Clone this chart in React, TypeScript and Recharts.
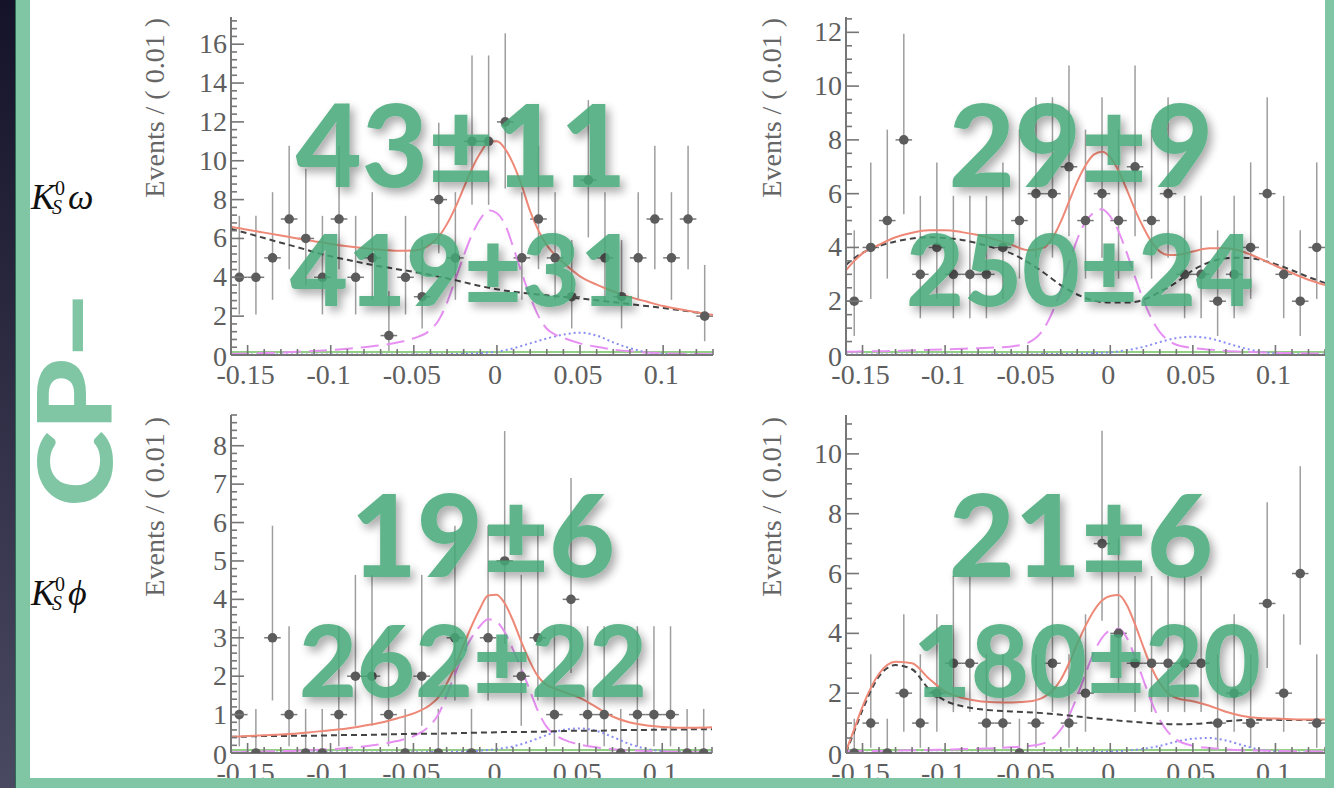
import React from 'react';
import { ComposedChart, Scatter, Line, XAxis, YAxis, ErrorBar } from 'recharts';

// centres of the 0.01-wide bins
const binCenters = [
  -0.155, -0.145, -0.135, -0.125, -0.115, -0.105, -0.095, -0.085, -0.075, -0.065,
  -0.055, -0.045, -0.035, -0.025, -0.015, -0.005, 0.005, 0.015, 0.025, 0.035,
  0.045, 0.055, 0.065, 0.075, 0.085, 0.095, 0.105, 0.115, 0.125,
];

// events per bin
const countsOmegaL = [4, 4, 5, 7, 6, 4, 7, 4, 5, 1, 4, 3, 8, 5, 11, 11, 12, 5, 7, 5, 3, 9, 5, 3, 5, 7, 5, 7, 2];
const countsOmegaR = [2, 4, 5, 8, 3, 4, 3, 3, 3, 4, 5, 6, 6, 7, 5, 6, 5, 7, 5, 6, 3, 3, 2, 3, 4, 6, 3, 2, 4];
const countsPhiL = [1, 0, 3, 1, 0, 0, 1, 2, 2, 1, 0, 2, 0, 3, 0, 3, 5, 2, 3, 1, 4, 1, 1, 0, 1, 1, 1, 0, 0];
const countsPhiR = [0, 1, 0, 2, 1, 2, 3, 3, 1, 1, 0, 1, 3, 1, 2, 7, 4, 3, 3, 3, 3, 3, 1, 2, 1, 5, 2, 6, 1];

// 68% Poisson interval for n = 0..12
const poissonLow = [0, 0.173, 0.708, 1.367, 2.086, 2.840, 3.620, 4.419, 5.232, 6.056, 6.889, 7.730, 8.576];
const poissonHigh = [1.148, 3.300, 4.638, 5.918, 7.163, 8.382, 9.584, 10.77, 11.95, 13.12, 14.27, 15.42, 16.56];

// sample points of the fitted curves
const fineX = [
  -0.16, -0.155, -0.15, -0.14, -0.13, -0.12, -0.11, -0.10, -0.09, -0.08, -0.07, -0.06, -0.05,
  -0.04, -0.035, -0.03, -0.025, -0.02, -0.015, -0.01, -0.005, 0, 0.005, 0.01, 0.015, 0.02,
  0.025, 0.03, 0.035, 0.04, 0.05, 0.06, 0.07, 0.08, 0.09, 0.10, 0.11, 0.12, 0.13,
];
const coarseX = [
  -0.16, -0.155, -0.15, -0.14, -0.13, -0.12, -0.11, -0.10, -0.09, -0.08, -0.07, -0.06, -0.05,
  -0.04, -0.03, -0.02, -0.01, 0, 0.01, 0.02, 0.03, 0.04, 0.05, 0.06, 0.07, 0.08, 0.09, 0.10,
  0.11, 0.12, 0.13,
];
const peakingX = [-0.16, -0.1, -0.05, -0.02, -0.01, 0, 0.01, 0.02, 0.03, 0.04, 0.05, 0.06, 0.07, 0.08, 0.09, 0.10, 0.11, 0.13];
const edgeX = [-0.16, 0.13];

// total fit (fineX)
const totalOmegaL = [6.6, 6.52, 6.45, 6.3, 6.15, 6.0, 5.86, 5.72, 5.6, 5.5, 5.42, 5.37, 5.38, 5.7, 6.1, 6.75, 7.6, 8.6, 9.6, 10.4, 10.95, 11.0, 10.6, 9.8, 8.7, 7.4, 6.4, 5.65, 5.15, 4.75, 4.05, 3.62, 3.27, 2.98, 2.75, 2.52, 2.35, 2.2, 2.06];
const totalOmegaR = [3.15, 3.5, 3.78, 4.1, 4.38, 4.55, 4.64, 4.64, 4.57, 4.46, 4.3, 4.1, 3.9, 4.0, 4.35, 4.95, 5.7, 6.45, 7.05, 7.45, 7.56, 7.35, 6.85, 6.15, 5.4, 4.75, 4.2, 3.85, 3.72, 3.72, 3.85, 3.97, 3.97, 3.85, 3.6, 3.32, 3.05, 2.8, 2.6];
const totalPhiL = [0.42, 0.43, 0.44, 0.46, 0.48, 0.51, 0.55, 0.59, 0.64, 0.71, 0.79, 0.9, 1.03, 1.25, 1.45, 1.8, 2.25, 2.78, 3.3, 3.75, 4.1, 4.12, 3.9, 3.45, 2.9, 2.4, 2.0, 1.78, 1.68, 1.6, 1.44, 1.2, 0.95, 0.8, 0.72, 0.68, 0.66, 0.66, 0.67];
const totalPhiR = [0.06, 0.8, 1.55, 2.65, 3.05, 3.0, 2.5, 2.05, 1.85, 1.74, 1.7, 1.69, 1.72, 1.88, 2.08, 2.45, 3.0, 3.65, 4.25, 4.75, 5.1, 5.25, 5.28, 4.95, 4.3, 3.55, 2.85, 2.33, 2.0, 1.84, 1.73, 1.58, 1.38, 1.24, 1.17, 1.15, 1.13, 1.12, 1.12];

// signal component (fineX)
const signalOmegaL = [0.05, 0.06, 0.07, 0.1, 0.13, 0.17, 0.21, 0.26, 0.32, 0.4, 0.5, 0.64, 0.86, 1.3, 1.8, 2.7, 3.9, 5.1, 6.2, 7.0, 7.45, 7.3, 6.7, 5.5, 4.2, 3.0, 2.0, 1.35, 1.05, 0.88, 0.6, 0.42, 0.28, 0.19, 0.13, 0.09, 0.06, 0.05, 0.04];
const signalOmegaR = [0.12, 0.12, 0.13, 0.14, 0.15, 0.17, 0.19, 0.21, 0.23, 0.25, 0.28, 0.32, 0.45, 1.0, 1.6, 2.4, 3.4, 4.3, 4.95, 5.3, 5.42, 5.15, 4.6, 3.8, 2.9, 2.05, 1.35, 0.85, 0.55, 0.38, 0.26, 0.2, 0.15, 0.12, 0.1, 0.08, 0.07, 0.06, 0.06];
const signalPhiL = [0.02, 0.02, 0.03, 0.04, 0.05, 0.06, 0.08, 0.1, 0.13, 0.17, 0.23, 0.31, 0.44, 0.72, 1.0, 1.5, 2.05, 2.6, 3.0, 3.3, 3.48, 3.42, 3.15, 2.7, 2.2, 1.65, 1.1, 0.7, 0.48, 0.36, 0.22, 0.15, 0.1, 0.07, 0.05, 0.04, 0.03, 0.02, 0.02];
const signalPhiR = [0.06, 0.06, 0.07, 0.07, 0.08, 0.09, 0.1, 0.11, 0.13, 0.14, 0.16, 0.19, 0.23, 0.33, 0.48, 0.78, 1.25, 1.9, 2.65, 3.35, 3.85, 4.1, 4.15, 3.85, 3.2, 2.45, 1.7, 1.1, 0.7, 0.45, 0.24, 0.17, 0.12, 0.09, 0.08, 0.07, 0.06, 0.06, 0.05];

// continuum background (coarseX)
const bkgOmegaL = [6.5, 6.38, 6.26, 6.02, 5.78, 5.55, 5.3, 5.08, 4.9, 4.72, 4.56, 4.42, 4.28, 4.12, 3.95, 3.75, 3.55, 3.38, 3.26, 3.16, 3.07, 2.99, 2.91, 2.82, 2.72, 2.62, 2.52, 2.42, 2.31, 2.19, 2.07];
const bkgOmegaR = [3.35, 3.6, 3.8, 4.05, 4.22, 4.33, 4.38, 4.35, 4.28, 4.15, 3.98, 3.78, 3.45, 3.05, 2.6, 2.25, 2.02, 1.95, 1.95, 2.05, 2.35, 2.7, 3.15, 3.45, 3.6, 3.62, 3.55, 3.38, 3.15, 2.9, 2.68];
const bkgPhiL = [0.42, 0.42, 0.43, 0.44, 0.44, 0.45, 0.45, 0.46, 0.47, 0.47, 0.48, 0.49, 0.5, 0.5, 0.51, 0.52, 0.53, 0.54, 0.55, 0.55, 0.56, 0.57, 0.58, 0.58, 0.59, 0.6, 0.6, 0.61, 0.61, 0.62, 0.62];
const bkgPhiR = [0.02, 0.72, 1.44, 2.56, 2.94, 2.8, 2.15, 1.75, 1.57, 1.47, 1.42, 1.39, 1.36, 1.33, 1.28, 1.22, 1.16, 1.11, 1.06, 1.02, 0.98, 0.96, 0.97, 1.01, 1.06, 1.1, 1.11, 1.11, 1.1, 1.1, 1.1];

// peaking background (peakingX)
const peakOmegaL = [0.02, 0.02, 0.03, 0.06, 0.1, 0.17, 0.35, 0.6, 0.85, 1.05, 1.15, 1.0, 0.65, 0.35, 0.15, 0.06, 0.03, 0.02];
const peakOmegaR = [0.02, 0.02, 0.03, 0.05, 0.07, 0.1, 0.18, 0.3, 0.48, 0.63, 0.68, 0.62, 0.45, 0.27, 0.13, 0.06, 0.03, 0.02];
const peakPhiL = [0.01, 0.01, 0.02, 0.04, 0.06, 0.1, 0.17, 0.3, 0.46, 0.6, 0.64, 0.58, 0.42, 0.24, 0.11, 0.05, 0.02, 0.01];
const peakPhiR = [0.01, 0.01, 0.01, 0.02, 0.03, 0.05, 0.08, 0.14, 0.24, 0.38, 0.48, 0.5, 0.42, 0.26, 0.12, 0.05, 0.02, 0.01];

// small flat component along the floor
const floorOmegaL = [0.15, 0.15];
const floorOmegaR = [0.11, 0.11];
const floorPhiL = [0.08, 0.08];
const floorPhiR = [0.1, 0.1];

// fitted yields: signal / total
const yieldSignal = ['43±11', '29±9', '19±6', '21±6'];
const yieldTotal = ['419±31', '250±24', '262±22', '180±20'];

// axis ticks
const xMajorTicks = [-0.15, -0.1, -0.05, 0, 0.05, 0.1];
const yMajorOmegaL = [0, 2, 4, 6, 8, 10, 12, 14, 16];
const yMajorOmegaR = [0, 2, 4, 6, 8, 10, 12];
const yMajorPhiL = [0, 1, 2, 3, 4, 5, 6, 7, 8];
const yMajorPhiR = [0, 2, 4, 6, 8, 10];

const steps = (from: number, to: number, step: number) => {
  const out: number[] = [];
  for (let i = 0; from + i * step <= to + 1e-9; i++) out.push(+(from + i * step).toFixed(4));
  return out;
};
const xAllTicks = steps(-0.16, 0.13, 0.01);

const zip = (xs: number[], ys: number[]) => xs.map((x, i) => ({ x, y: ys[i] }));

const AXIS = '#767676';
const LABEL = '#5e5e5e';
const SERIF = '"Liberation Serif", "Times New Roman", serif';
const GREEN = '#80c6a5';

type Side = 'bottom' | 'top' | 'left' | 'right';

const tickRenderer =
  (side: Side, majors: number[], majorLen: number, minorLen: number, labelled: boolean) =>
  (props: any) => {
    const { x, y, payload } = props;
    const v = payload.value as number;
    const major = majors.some((m) => Math.abs(m - v) < 1e-6);
    const len = major ? majorLen : minorLen;
    let l = { x1: x, y1: y, x2: x, y2: y - len };
    if (side === 'top') l = { x1: x, y1: y, x2: x, y2: y + len };
    if (side === 'left') l = { x1: x, y1: y, x2: x + len, y2: y };
    if (side === 'right') l = { x1: x, y1: y, x2: x - len, y2: y };
    let label = null;
    if (labelled && major) {
      label =
        side === 'bottom' ? (
          <text x={x - 2} y={y + 29} textAnchor="middle" fontSize={28} fontFamily={SERIF} fill={LABEL}>
            {String(v)}
          </text>
        ) : (
          <text x={x - 4} y={y + (v === 0 ? 11 : 9)} textAnchor="end" fontSize={28} fontFamily={SERIF} fill={LABEL}>
            {String(v)}
          </text>
        );
    }
    return (
      <g>
        <line {...l} stroke={AXIS} strokeWidth={1.6} />
        {label}
      </g>
    );
  };

type PanelProps = {
  left: number;
  top: number;
  width: number;
  height: number;
  yMax: number;
  yMajor: number[];
  yMinorStep: number;
  counts: number[];
  total: number[];
  signal: number[];
  bkg: number[];
  peaking: number[];
  floor: number[];
};

const FitPanel: React.FC<PanelProps> = ({ left, top, width, height, yMax, yMajor, yMinorStep, counts, total, signal, bkg, peaking, floor }) => {
  const points = binCenters.map((x, i) => {
    const n = counts[i];
    return { x, y: n, ey: [n - poissonLow[n], poissonHigh[n] - n], ex: 0.005 };
  });
  const yTicks = steps(0, yMax, yMinorStep);
  const common = { tickSize: 0, tickMargin: 0, tickLine: false, interval: 0 as const, allowDataOverflow: true };
  const axisLine = { stroke: AXIS, strokeWidth: 2 };

  return (
    <div style={{ position: 'absolute', left, top }}>
      <ComposedChart width={width} height={height} margin={{ top: 5, right: 5, bottom: 0, left: 0 }}>
        <XAxis dataKey="x" type="number" domain={[-0.16, 0.13]} ticks={xAllTicks} height={40} axisLine={axisLine}
          tick={tickRenderer('bottom', xMajorTicks, 10, 6, true)} {...common} />
        <XAxis xAxisId="top" orientation="top" type="number" domain={[-0.16, 0.13]} ticks={xAllTicks} height={0} axisLine={axisLine}
          tick={tickRenderer('top', xMajorTicks, 10, 6, false)} {...common} />
        <YAxis dataKey="y" type="number" domain={[0, yMax]} ticks={yTicks} width={60} axisLine={axisLine}
          tick={tickRenderer('left', yMajor, 13, 6, true)} {...common} />
        <YAxis yAxisId="right" orientation="right" type="number" domain={[0, yMax]} ticks={yTicks} width={0} axisLine={axisLine}
          tick={tickRenderer('right', yMajor, 13, 6, false)} {...common} />

        <Scatter data={points} isAnimationActive={false}
          shape={(p: any) => <circle cx={p.cx} cy={p.cy} r={4.8} fill="#5c5c5c" />}>
          <ErrorBar dataKey="ey" direction="y" width={0} stroke="#9e9e9e" strokeWidth={1.5} isAnimationActive={false} />
          <ErrorBar dataKey="ex" direction="x" width={0} stroke="#7a7a7a" strokeWidth={1.5} isAnimationActive={false} />
        </Scatter>

        <Line data={zip(edgeX, floor)} dataKey="y" type="linear" stroke="#93cf85" strokeWidth={2} dot={false} activeDot={false} isAnimationActive={false} />
        <Line data={zip(peakingX, peaking)} dataKey="y" type="monotone" stroke="#8a8ef2" strokeWidth={2} strokeDasharray="2 3" dot={false} activeDot={false} isAnimationActive={false} />
        <Line data={zip(fineX, signal)} dataKey="y" type="monotone" stroke="#e690f2" strokeWidth={2} strokeDasharray="18 8" dot={false} activeDot={false} isAnimationActive={false} />
        <Line data={zip(coarseX, bkg)} dataKey="y" type="monotone" stroke="#444" strokeWidth={2} strokeDasharray="6 4" dot={false} activeDot={false} isAnimationActive={false} />
        <Line data={zip(fineX, total)} dataKey="y" type="monotone" stroke="#ee8877" strokeWidth={2} dot={false} activeDot={false} isAnimationActive={false} />
      </ComposedChart>
    </div>
  );
};

const yieldSpots = [
  { cx1: 461, y1: 187, cx2: 464, y2: 306 },
  { cx1: 1081, y1: 187, cx2: 1080, y2: 306 },
  { cx1: 483, y1: 577, cx2: 473, y2: 697 },
  { cx1: 1081, y1: 577, cx2: 1087, y2: 697 },
];

const AxisTitle: React.FC<{ x: number; yEnd: number }> = ({ x, yEnd }) => (
  <text x={x} y={yEnd} transform={`rotate(-90 ${x} ${yEnd})`} textAnchor="end" fontSize={28} fontFamily={SERIF} fill="#666">
    Events / ( 0.01 )
  </text>
);

const ModeLabel: React.FC<{ y: number; meson: string }> = ({ y, meson }) => (
  <g fontFamily={SERIF} fill="#111">
    <text x={31} y={y} fontSize={36} fontStyle="italic">K</text>
    <text x={55} y={y - 14} fontSize={20}>0</text>
    <text x={52} y={y + 5} fontSize={20} fontStyle="italic">S</text>
    <text x={68} y={y} fontSize={36} fontStyle="italic">{meson}</text>
  </g>
);

export default function App() {
  return (
    <div style={{ position: 'absolute', left: 0, top: 0, width: 1334, height: 788, overflow: 'hidden', background: '#fff' }}>
      <FitPanel left={171} top={12} width={547} height={383} yMax={17.4} yMajor={yMajorOmegaL} yMinorStep={0.4}
        counts={countsOmegaL} total={totalOmegaL} signal={signalOmegaL} bkg={bkgOmegaL} peaking={peakOmegaL} floor={floorOmegaL} />
      <FitPanel left={786} top={12} width={544} height={383} yMax={12.57} yMajor={yMajorOmegaR} yMinorStep={0.5}
        counts={countsOmegaR} total={totalOmegaR} signal={signalOmegaR} bkg={bkgOmegaR} peaking={peakOmegaR} floor={floorOmegaR} />
      <FitPanel left={171} top={410} width={546} height={383} yMax={8.8} yMajor={yMajorPhiL} yMinorStep={0.2}
        counts={countsPhiL} total={totalPhiL} signal={signalPhiL} bkg={bkgPhiL} peaking={peakPhiL} floor={floorPhiL} />
      <FitPanel left={786} top={410} width={544} height={383} yMax={11.3} yMajor={yMajorPhiR} yMinorStep={0.5}
        counts={countsPhiR} total={totalPhiR} signal={signalPhiR} bkg={bkgPhiR} peaking={peakPhiR} floor={floorPhiR} />

      <svg width={1334} height={788} style={{ position: 'absolute', left: 0, top: 0, pointerEvents: 'none' }}>
        <defs>
          <filter id="lift" x="-10%" y="-20%" width="130%" height="160%">
            <feDropShadow dx={4} dy={5} stdDeviation={5} floodColor="#000" floodOpacity={0.4} />
          </filter>
        </defs>

        <AxisTitle x={164} yEnd={18} />
        <AxisTitle x={781} yEnd={18} />
        <AxisTitle x={164} yEnd={417} />
        <AxisTitle x={781} yEnd={417} />

        <ModeLabel y={209} meson="ω" />
        <ModeLabel y={605} meson="ϕ" />

        <text x={0} y={0} transform="translate(112 507) rotate(-90) scale(1.12 1)" fontSize={103} fontWeight={900} fontFamily="Lato, sans-serif" fill={GREEN}>
          CP−
        </text>

        <g filter="url(#lift)" opacity={0.85} fill="#45a877" fontFamily="Lato, sans-serif" fontWeight={900} textAnchor="middle">
          {yieldSpots.map((s, i) => (
            <g key={i}>
              <text x={s.cx1} y={s.y1} fontSize={114}>{yieldSignal[i]}</text>
              <text x={s.cx2} y={s.y2} fontSize={100}>{yieldTotal[i]}</text>
            </g>
          ))}
        </g>
      </svg>

      {/* slide frame */}
      <div style={{ position: 'absolute', left: 0, top: 0, width: 15, height: 788, background: 'linear-gradient(#141329, #4a4962)' }} />
      <div style={{ position: 'absolute', left: 15, top: 0, width: 1, height: 788, background: '#2f6d55' }} />
      <div style={{ position: 'absolute', left: 16, top: 0, width: 14, height: 788, background: GREEN }} />
      <div style={{ position: 'absolute', left: 1325, top: 0, width: 9, height: 788, background: GREEN }} />
      <div style={{ position: 'absolute', left: 16, top: 778, width: 1318, height: 10, background: GREEN }} />
    </div>
  );
}
